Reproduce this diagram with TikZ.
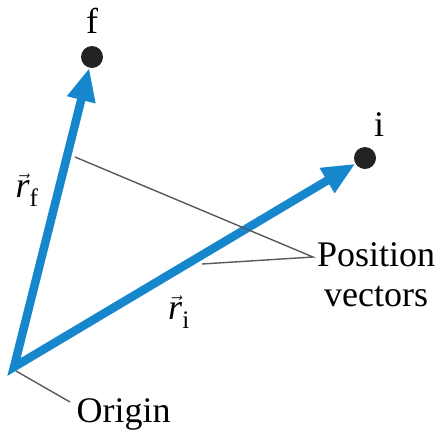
\documentclass[tikz,border=0pt]{standalone}
\usepackage{amsmath}
\usepackage{fontspec}
\setmainfont{Liberation Serif}
\usetikzlibrary{arrows.meta,positioning}
\definecolor{vecblue}{RGB}{22,135,205}
\definecolor{dotgray}{RGB}{35,35,35}
\begin{document}
\begin{tikzpicture}[x=1pt,y=-1pt,
every node/.style={font=\fontsize{36}{40}\selectfont},
dot/.style={circle,fill=dotgray,minimum size=22pt,inner sep=0pt},
vec/.style={draw=vecblue,line width=8.5pt,line join=miter,
 {Triangle[length=33pt,width=27pt]}-{Triangle[length=33pt,width=27pt]}},
leader/.style={draw=black!65,line width=1.4pt}]
\useasboundingbox (0,0) rectangle (444,432);
\coordinate (O) at (14,367);
\node[dot] (f) at (92,57) {};
\node[dot] (i) at (365,158) {};
\node[anchor=base] (flab) at (92,33) {f};
\node[anchor=base] (ilab) at (379,136) {i};
\draw[vec] (f)--(O)--(i);
\node (rf) at (27,190) {$\vec{\textit{r}}_{\text{f}}$};
\node (ri) at (179,312) {$\vec{\textit{r}}_{\text{i}}$};
\node[anchor=base west] (orig) at (73,422) {Origin};
\node[anchor=north west,align=center,inner sep=0pt] (pos) at (317,242) {Position\\vectors};
\coordinate (PF) at (75,157);
\coordinate (PI) at (202,264);
\coordinate (PV) at (313,257);
\coordinate (OL) at (16,371);
\coordinate (OR) at (70,402);
\draw[leader] (PF)--(PV)--(PI);
\draw[leader] (OL)--(OR);
\end{tikzpicture}
\end{document}
